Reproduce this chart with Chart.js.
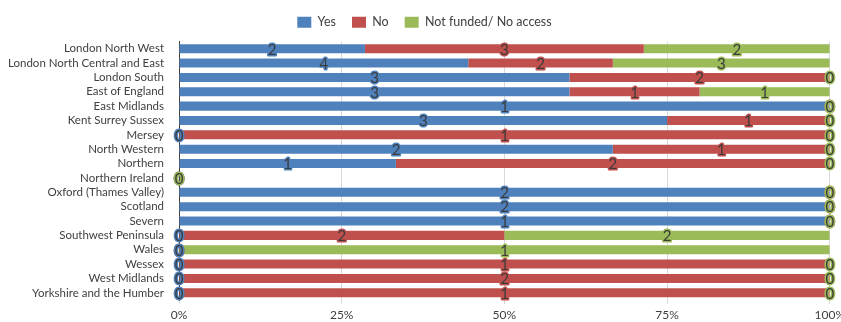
<!DOCTYPE html>
<html>
<head>
<meta charset="utf-8">
<script src="https://cdn.jsdelivr.net/npm/chart.js@4"></script>
<style>
  html, body { margin: 0; padding: 0; background: #ffffff; overflow: hidden; }
  #wrap { width: 849px; height: 322px; }
</style>
</head>
<body>
<div id="wrap"><canvas id="chart"></canvas></div>
<script>
// Regions surveyed
const regions = [
  'London North West', 'London North Central and East', 'London South', 'East of England',
  'East Midlands', 'Kent Surrey Sussex', 'Mersey', 'North Western', 'Northern',
  'Northern Ireland', 'Oxford (Thames Valley)', 'Scotland', 'Severn', 'Southwest Peninsula',
  'Wales', 'Wessex', 'West Midlands', 'Yorkshire and the Humber'
];

// Response counts per region
const yesCounts       = [2, 4, 3, 3, 1, 3, 0, 2, 1, 0, 2, 2, 1, 0, 0, 0, 0, 0];
const noCounts        = [3, 2, 2, 1, 0, 1, 1, 1, 2, 0, 0, 0, 0, 2, 0, 1, 2, 1];
const notFundedCounts = [2, 3, 0, 1, 0, 0, 0, 0, 0, 0, 0, 0, 0, 2, 1, 0, 0, 0];

const seriesNames = ['Yes', 'No', 'Not funded/ No access'];
const seriesColors = ['#4F81BD', '#C0504D', '#9BBB59'];
const percentTicks = [0, 25, 50, 75, 100];

const allCounts = [yesCounts, noCounts, notFundedCounts];
const totals = regions.map((_, i) => yesCounts[i] + noCounts[i] + notFundedCounts[i]);
const toShare = counts => counts.map((c, i) => totals[i] ? c / totals[i] * 100 : 0);

const FONT = 'Lato, sans-serif';

// Count labels centred on each segment, haloed in the segment colour
const countLabels = {
  id: 'countLabels',
  afterDatasetsDraw(chart) {
    const ctx = chart.ctx;
    ctx.save();
    ctx.font = '15px ' + FONT;
    ctx.textAlign = 'center';
    ctx.textBaseline = 'middle';
    ctx.lineJoin = 'round';
    [1, 0, 2].forEach(di => {
      const meta = chart.getDatasetMeta(di);
      meta.data.forEach((bar, i) => {
        const { x, y, base } = bar.getProps(['x', 'y', 'base'], true);
        const cx = (x + base) / 2;
        const txt = String(allCounts[di][i]);
        ctx.strokeStyle = seriesColors[di];
        ctx.lineWidth = 3;
        ctx.strokeText(txt, cx, y + 1);
        ctx.fillStyle = '#3a3a3a';
        ctx.fillText(txt, cx, y + 1);
      });
    });
    ctx.restore();
  }
};

// Extra space between the legend and the plot
const legendGap = {
  id: 'legendGap',
  afterInit(chart) {
    const legend = chart.legend;
    if (!legend) return;
    const fit = legend.fit;
    legend.fit = function () { fit.call(this); this.height += 3; };
  }
};

new Chart(document.getElementById('chart'), {
  type: 'bar',
  data: {
    labels: regions,
    datasets: allCounts.map((counts, k) => ({
      label: seriesNames[k],
      data: toShare(counts),
      backgroundColor: seriesColors[k],
      borderWidth: 0,
      barPercentage: 0.9,
      categoryPercentage: 0.7
    }))
  },
  options: {
    indexAxis: 'y',
    responsive: true,
    maintainAspectRatio: false,
    animation: false,
    layout: { padding: { top: 0, left: 0, right: 0, bottom: 0 } },
    plugins: {
      legend: {
        position: 'top',
        labels: {
          font: { family: FONT, size: 12.5 },
          color: '#404040',
          boxWidth: 14,
          boxHeight: 11,
          padding: 16
        }
      },
      tooltip: { enabled: false }
    },
    scales: {
      x: {
        stacked: true,
        min: 0,
        max: 100,
        afterBuildTicks(scale) { scale.ticks = percentTicks.map(v => ({ value: v })); },
        afterFit(scale) { scale.height = 22; },
        ticks: {
          callback: v => v + '%',
          font: { family: FONT, size: 12 },
          color: '#404040',
          maxRotation: 0,
          padding: 4
        },
        grid: { color: '#d9d9d9', tickLength: 4 },
        border: { display: false }
      },
      y: {
        stacked: true,
        afterFit(scale) { scale.width = 179; },
        ticks: {
          font: { family: FONT, size: 11.5 },
          color: '#404040',
          autoSkip: false,
          padding: 7
        },
        grid: { display: false },
        border: { display: true, color: '#404040', width: 1 }
      }
    }
  },
  plugins: [countLabels, legendGap]
});
</script>
</body>
</html>
